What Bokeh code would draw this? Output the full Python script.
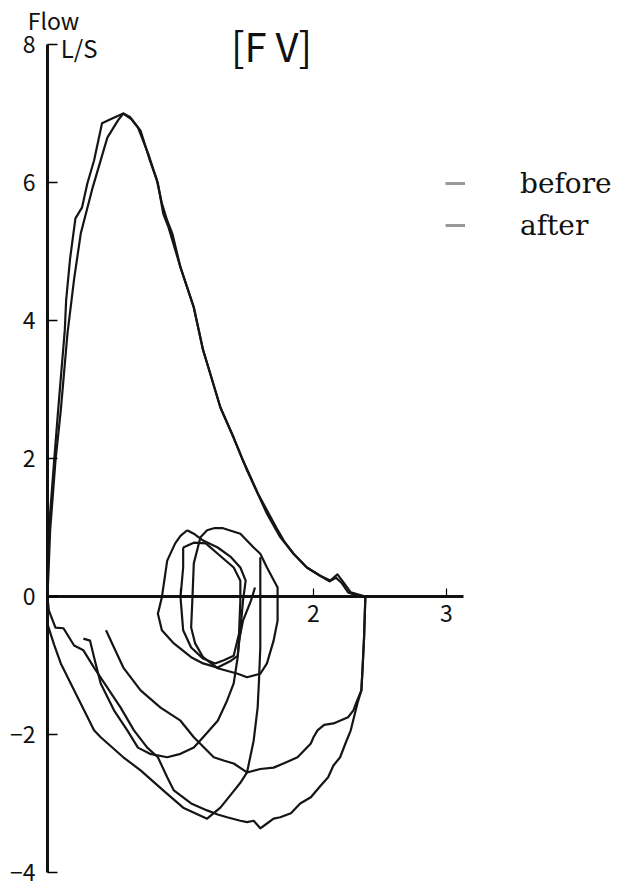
from bokeh.plotting import figure
from bokeh.models import Range1d, LinearAxis, FixedTicker, Label, Legend, LegendItem
from bokeh.embed import file_html
from bokeh.resources import INLINE

# ---------------- data (volume in L, flow in L/S) ----------------
y_ticks = [-4, -2, 0, 2, 4, 6, 8]
x_ticks = [1, 2, 3]
x_tick_labels = {1: "", 2: "2", 3: "3"}

# expiratory limbs
exp_before_x = [0.00, 0.01, 0.05, 0.08, 0.13, 0.14, 0.17, 0.21, 0.26, 0.30, 0.35, 0.41, 0.49, 0.57,
                0.63, 0.70, 0.77, 0.83, 0.87, 0.91, 1.00, 1.10, 1.17, 1.20, 1.30, 1.40, 1.50, 1.65,
                1.75, 1.85, 1.95, 2.05, 2.13, 2.17, 2.21, 2.26, 2.32, 2.39]
exp_before_y = [0.00, 0.96, 1.97, 2.70, 3.86, 4.29, 4.90, 5.48, 5.64, 5.99, 6.32, 6.86, 6.93, 7.00,
                6.92, 6.75, 6.32, 5.99, 5.55, 5.35, 4.77, 4.19, 3.57, 3.38, 2.74, 2.30, 1.83, 1.20,
                0.86, 0.62, 0.42, 0.30, 0.23, 0.27, 0.20, 0.06, 0.02, 0.00]

exp_after_x = [0.00, 0.02, 0.06, 0.10, 0.15, 0.20, 0.25, 0.34, 0.45, 0.53, 0.57,
               0.62, 0.68, 0.76, 0.82, 0.86, 0.90, 0.94, 1.00, 1.10, 1.17, 1.20, 1.30, 1.40, 1.47,
               1.52, 1.58, 1.65, 1.72, 1.78, 1.85, 1.95, 2.05, 2.12, 2.18, 2.22, 2.28, 2.39]
exp_after_y = [0.00, 0.96, 1.97, 2.70, 3.81, 4.60, 5.26, 5.93, 6.65, 6.90, 7.00,
               6.95, 6.80, 6.40, 6.05, 5.70, 5.45, 5.25, 4.77, 4.19, 3.57, 3.38, 2.74, 2.30, 1.97,
               1.76, 1.50, 1.25, 1.00, 0.80, 0.62, 0.42, 0.30, 0.22, 0.32, 0.22, 0.06, 0.00]

# inspiratory limbs
insp_before_x = [2.39, 2.38, 2.37, 2.36, 2.33, 2.28, 2.24, 2.20, 2.15, 2.11, 2.05, 1.98, 1.90, 1.83,
                 1.75, 1.70, 1.65, 1.60, 1.55, 1.50, 1.45, 1.35, 1.28, 1.20, 1.08, 0.95, 0.90, 0.83,
                 0.75, 0.65, 0.55, 0.45, 0.35, 0.27, 0.20, 0.12, 0.06, 0.01, 0.00]
insp_before_y = [0.00, -0.60, -1.00, -1.36, -1.55, -1.94, -2.13, -2.33, -2.45, -2.62, -2.75, -2.91, -3.00, -3.14,
                 -3.20, -3.22, -3.29, -3.36, -3.25, -3.27, -3.25, -3.20, -3.16, -3.10, -3.00, -2.81, -2.62, -2.33,
                 -2.19, -1.94, -1.61, -1.32, -1.03, -0.78, -0.71, -0.46, -0.45, -0.20, 0.00]

insp_after_x = [2.39, 2.38, 2.37, 2.36, 2.33, 2.30, 2.26, 2.15, 2.08, 2.03, 2.00, 1.98, 1.88, 1.80,
                1.70, 1.60, 1.50, 1.40, 1.33, 1.25, 1.10, 1.00, 0.85, 0.70, 0.57, 0.50, 0.44]
insp_after_y = [0.00, -0.60, -1.00, -1.36, -1.50, -1.65, -1.75, -1.84, -1.86, -1.94, -2.04, -2.13, -2.33, -2.40,
                -2.48, -2.50, -2.55, -2.42, -2.38, -2.33, -2.04, -1.80, -1.61, -1.36, -1.03, -0.74, -0.49]

insp_tidal_a_x = [1.60, 1.60, 1.60, 1.59, 1.58, 1.55, 1.50, 1.45, 1.40, 1.30, 1.20, 1.02, 0.87, 0.70,
                  0.57, 0.40, 0.35, 0.20, 0.10, 0.05, 0.00]
insp_tidal_a_y = [0.57, 0.00, -0.74, -1.22, -1.61, -2.09, -2.55, -2.70, -2.82, -3.06, -3.22, -3.06, -2.81, -2.52,
                  -2.33, -2.04, -1.94, -1.36, -0.97, -0.70, -0.40]

insp_tidal_b_x = [0.27, 0.32, 0.35, 0.40, 0.50, 0.60, 0.68, 0.77, 0.90, 1.00, 1.10, 1.17, 1.28, 1.35,
                  1.40, 1.43, 1.44, 1.47, 1.53, 1.56]
insp_tidal_b_y = [-0.61, -0.64, -0.88, -1.26, -1.65, -1.94, -2.19, -2.28, -2.33, -2.28, -2.19, -2.04, -1.80, -1.51,
                  -1.26, -0.88, -0.64, -0.35, -0.06, 0.13]

# tidal loops
tidal_a_x = [1.05, 1.10, 1.17, 1.28, 1.38, 1.45, 1.49, 1.47, 1.45, 1.43, 1.38, 1.28, 1.17, 1.08,
             0.95, 0.86, 0.83, 0.86, 0.90, 0.96, 1.00, 1.05]
tidal_a_y = [0.96, 0.91, 0.81, 0.71, 0.57, 0.42, 0.23, -0.06, -0.49, -0.86, -0.93, -1.03, -0.97, -0.88,
             -0.68, -0.49, -0.25, -0.01, 0.52, 0.77, 0.88, 0.96]

tidal_b_x = [1.02, 1.10, 1.19, 1.28, 1.40, 1.45, 1.45, 1.44, 1.40, 1.33, 1.26, 1.17, 1.08, 1.02, 1.00, 1.02, 1.02]
tidal_b_y = [0.71, 0.78, 0.77, 0.62, 0.42, 0.23, -0.06, -0.54, -0.86, -0.92, -0.97, -0.90, -0.74, -0.49, -0.01, 0.42, 0.71]

tidal_c_x = [1.25, 1.32, 1.45, 1.55, 1.60, 1.65, 1.73, 1.73, 1.70, 1.65, 1.60, 1.50, 1.43, 1.28, 1.17,
             1.11, 1.08, 1.09, 1.10, 1.15, 1.20, 1.25]
tidal_c_y = [0.99, 0.99, 0.91, 0.71, 0.62, 0.42, 0.13, -0.35, -0.64, -0.97, -1.12, -1.17, -1.12, -1.04, -0.88,
             -0.68, -0.45, -0.01, 0.48, 0.86, 0.96, 0.99]

curves_x = [exp_before_x, exp_after_x, insp_before_x, insp_after_x, insp_tidal_a_x, insp_tidal_b_x,
            tidal_a_x, tidal_b_x, tidal_c_x]
curves_y = [exp_before_y, exp_after_y, insp_before_y, insp_after_y, insp_tidal_a_y, insp_tidal_b_y,
            tidal_a_y, tidal_b_y, tidal_c_y]

# ---------------- figure ----------------
p = figure(width=617, height=888, output_backend="svg", toolbar_location=None,
           x_range=Range1d(-0.3534, 4.2857), y_range=Range1d(-4.232, 8.638),
           x_axis_type=None, y_axis_type=None, min_border=0)
p.outline_line_color = None
p.background_fill_color = "white"

AX_FONT = "Noto Sans CJK JP"

yax = LinearAxis(fixed_location=0, bounds=(-4, 8), ticker=FixedTicker(ticks=y_ticks))
yax.axis_line_width = 3
yax.axis_line_color = "#111111"
yax.major_tick_in = 10
yax.major_tick_out = 0
yax.major_tick_line_width = 1.5
yax.minor_tick_line_color = None
yax.major_label_standoff = 12
yax.major_label_text_font = AX_FONT
yax.major_label_text_font_size = "23px"
yax.major_label_text_color = "#111111"
p.add_layout(yax, "left")

xax = LinearAxis(fixed_location=0, bounds=(0, 3.13), ticker=FixedTicker(ticks=x_ticks),
                 major_label_overrides=x_tick_labels)
xax.axis_line_width = 3
xax.axis_line_color = "#111111"
xax.major_tick_in = 8
xax.major_tick_out = 0
xax.major_tick_line_width = 1.2
xax.minor_tick_line_color = None
xax.major_label_standoff = 8
xax.major_label_text_font = AX_FONT
xax.major_label_text_font_size = "23px"
xax.major_label_text_color = "#111111"
p.add_layout(xax, "below")

for cx, cy in zip(curves_x, curves_y):
    p.line(cx, cy, line_color="#151515", line_width=2.2, line_join="round")

# texts
p.add_layout(Label(x=0.045, y=8.35, text="Flow", text_align="center", text_baseline="middle",
                   text_font=AX_FONT, text_font_size="23px", text_color="#111111"))
p.add_layout(Label(x=0.10, y=7.96, text="L/S", text_align="left", text_baseline="middle",
                   text_font=AX_FONT, text_font_size="24px", text_color="#111111"))
p.add_layout(Label(x=1.684, y=7.99, text="[F V]", text_align="center", text_baseline="middle",
                   text_font=AX_FONT, text_font_size="40px", text_color="#111111"))

# legend (single-point lines: nothing drawn in the plot, only the legend swatch)
r_before = p.line(x=exp_before_x[:1], y=exp_before_y[:1], line_color="#999999", line_width=3)
r_after = p.line(x=exp_after_x[:1], y=exp_after_y[:1], line_color="#999999", line_width=3)
legend = Legend(items=[LegendItem(label="before", renderers=[r_before]),
                       LegendItem(label="after", renderers=[r_after])],
                location=(445, 646), orientation="vertical", padding=0, margin=0,
                border_line_color=None, background_fill_alpha=0,
                label_text_font="DejaVu Serif", label_text_font_size="28px",
                label_text_color="#111111",
                glyph_width=20, glyph_height=34, label_height=34, label_standoff=55,
                spacing=8)
p.add_layout(legend)

open("out.html", "w").write(file_html(p, INLINE))
